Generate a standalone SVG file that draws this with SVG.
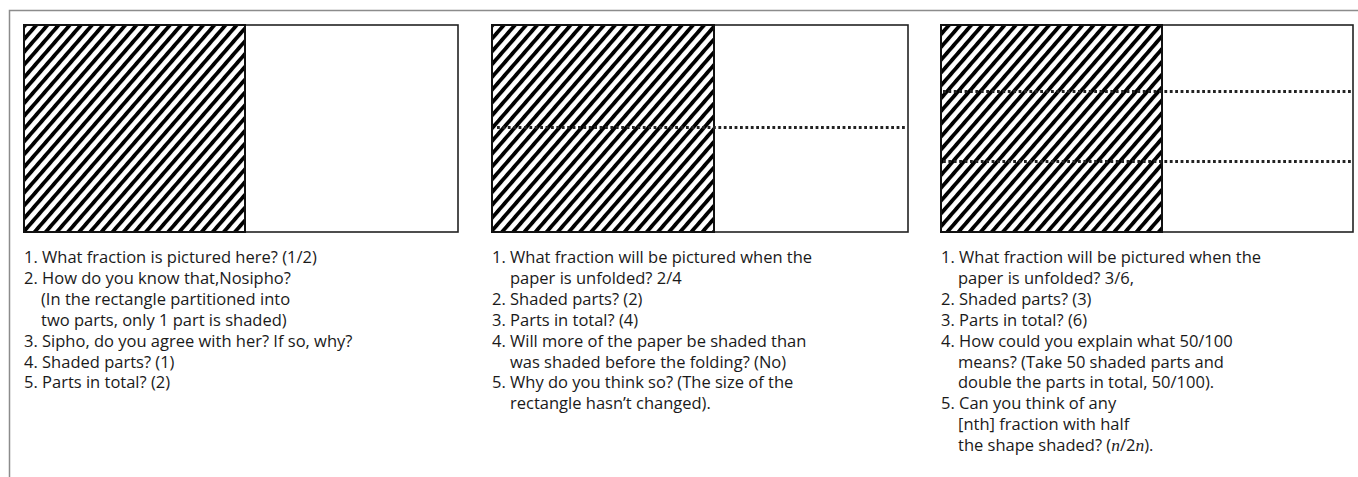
<svg xmlns="http://www.w3.org/2000/svg" width="1358" height="477" viewBox="0 0 1358 477">
<defs>
<pattern id="hatch" patternUnits="userSpaceOnUse" width="8.4" height="20" patternTransform="rotate(41)">
<rect x="0" y="0" width="3.8" height="20" fill="#000"/>
</pattern>
</defs>
<style>
.frame{stroke:#8c8c8c;stroke-width:1.5;fill:none}
.box{fill:#fff;stroke:#222;stroke-width:1.6}
.shade{fill:url(#hatch);stroke:#111;stroke-width:2}
.dot{stroke:#222;stroke-width:2.8;stroke-dasharray:2.8 2.6;fill:none}
text{font-family:"Open Sans","Liberation Sans",sans-serif;font-size:16.5px;fill:#1a1a1a}
.it{font-family:"Liberation Serif",serif;font-style:italic;font-size:17.5px}
</style>
<g id="frame">
<path class="frame" d="M9.5 477 V10.5 H1358"/>
</g>
<g id="panel1">
<rect class="box" x="24" y="25" width="434" height="207"/>
<rect class="shade" x="24" y="25" width="221" height="207"/>
<text x="24" y="263">1. What fraction is pictured here? (1/2)</text>
<text x="24" y="283.9">2. How do you know that,Nosipho?</text>
<text x="41" y="304.8">(In the rectangle  partitioned into</text>
<text x="41" y="325.7">two parts, only 1 part is shaded)</text>
<text x="24" y="346.6">3. Sipho, do you agree with her? If so, why?</text>
<text x="24" y="367.5">4. Shaded parts? (1)</text>
<text x="24" y="388.4">5. Parts in total? (2)</text>
</g>
<g id="panel2">
<rect class="box" x="492" y="25" width="416" height="207"/>
<rect class="shade" x="492" y="25" width="222" height="207"/>
<text x="492" y="263">1. What fraction will be pictured when the</text>
<text x="510" y="283.9">paper is unfolded? 2/4</text>
<text x="492" y="304.8">2. Shaded parts? (2)</text>
<text x="492" y="325.7">3. Parts in total? (4)</text>
<text x="492" y="346.6">4. Will more of the paper be shaded than</text>
<text x="510" y="367.5">was shaded before the folding? (No)</text>
<text x="492" y="388.4">5. Why do you think so? (The size of the</text>
<text x="510" y="409.3">rectangle hasn’t changed).</text>
</g>
<g id="panel3">
<rect class="box" x="941" y="25" width="412" height="207"/>
<rect class="shade" x="941" y="25" width="221" height="207"/>
<text x="941" y="263">1. What fraction will be pictured when the</text>
<text x="958" y="283.9">paper is unfolded? 3/6,</text>
<text x="941" y="304.8">2. Shaded parts? (3)</text>
<text x="941" y="325.7">3. Parts in total? (6)</text>
<text x="941" y="346.6">4. How could you explain what 50/100</text>
<text x="958" y="367.5">means? (Take 50 shaded parts and</text>
<text x="958" y="388.4">double the parts in total, 50/100).</text>
<text x="941" y="409.3">5. Can you think of any</text>
<text x="958" y="430.2">[nth] fraction with half</text>
<text x="958" y="451.1">the shape shaded? (<tspan class="it">n</tspan>/2<tspan class="it">n</tspan>).</text>
</g>
<g id="connectors">
<line class="dot" x1="497" y1="127.5" x2="907" y2="127.5"/>
<line class="dot" x1="943" y1="91.5" x2="1352" y2="91.5"/>
<line class="dot" x1="943" y1="161.5" x2="1352" y2="161.5"/>
</g>
</svg>
